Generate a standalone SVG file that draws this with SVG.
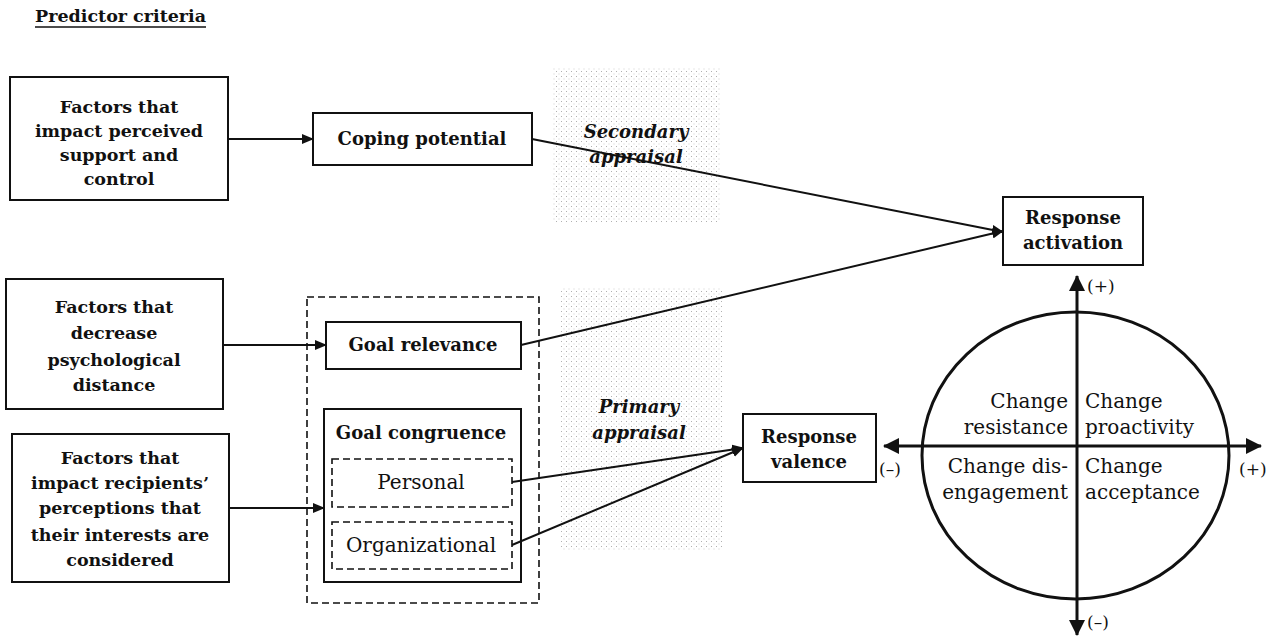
<svg xmlns="http://www.w3.org/2000/svg" width="1273" height="637" viewBox="0 0 1273 637">
<defs>
<style>
.box{fill:#fff;stroke:#111;stroke-width:2}
.dash{fill:none;stroke:#111;stroke-width:1.6;stroke-dasharray:7,4}
.b{font-family:"DejaVu Serif","Liberation Serif",serif;font-weight:bold;font-size:18px;fill:#111;text-anchor:middle}
.f{font-size:17.5px}
.r{font-family:"DejaVu Serif","Liberation Serif",serif;font-size:20px;fill:#111}
.bi{font-family:"DejaVu Serif","Liberation Serif",serif;font-weight:bold;font-style:italic;font-size:18px;fill:#111;text-anchor:middle}
.sm{font-family:"DejaVu Serif","Liberation Serif",serif;font-size:17px;fill:#111}
.ln{fill:none;stroke:#111;stroke-width:2}
.ax{fill:none;stroke:#111;stroke-width:3}
</style>
<pattern id="dots" width="5" height="5" patternUnits="userSpaceOnUse">
<rect x="1" y="1" width="1" height="1" fill="#b0b0b0"/>
<rect x="3.5" y="3.5" width="1" height="1" fill="#d0d0d0"/>
</pattern>
<marker id="ah" viewBox="0 0 12 10" refX="11" refY="5" markerWidth="12" markerHeight="10" markerUnits="userSpaceOnUse" orient="auto">
<path d="M0,0 L12,5 L0,10 z" fill="#111"/>
</marker>
<marker id="axh" viewBox="0 0 16 16" refX="15" refY="8" markerWidth="16" markerHeight="16" markerUnits="userSpaceOnUse" orient="auto">
<path d="M0,0 L16,8 L0,16 z" fill="#111"/>
</marker>
</defs>
<rect width="1273" height="637" fill="#fff"/>

<g id="title">
<text x="35" y="22" class="b" style="text-anchor:start;font-size:17.5px">Predictor criteria</text>
<line x1="35" y1="27" x2="206" y2="27" stroke="#111" stroke-width="1.5"/>
</g>

<g id="stipple">
<rect x="553" y="68" width="167" height="154" fill="url(#dots)"/>
<rect x="560" y="288" width="162" height="262" fill="url(#dots)"/>
</g>

<g id="factors1">
<rect class="box" x="10" y="77" width="218" height="123"/>
<text class="b f" x="119" y="113">Factors that</text>
<text class="b f" x="119" y="137">impact perceived</text>
<text class="b f" x="119" y="161">support and</text>
<text class="b f" x="119" y="185">control</text>
</g>

<g id="factors2">
<rect class="box" x="6" y="279" width="217" height="130"/>
<text class="b f" x="114" y="313">Factors that</text>
<text class="b f" x="114" y="339">decrease</text>
<text class="b f" x="114" y="366">psychological</text>
<text class="b f" x="114" y="391">distance</text>
</g>

<g id="factors3">
<rect class="box" x="12" y="434" width="217" height="148"/>
<text class="b f" x="120" y="464">Factors that</text>
<text class="b f" x="120" y="489">impact recipients’</text>
<text class="b f" x="120" y="514">perceptions that</text>
<text class="b f" x="120" y="541">their interests are</text>
<text class="b f" x="120" y="566">considered</text>
</g>

<g id="coping">
<rect class="box" x="313" y="113" width="219" height="52"/>
<text class="b" x="422" y="145">Coping potential</text>
</g>

<g id="primary-group">
<rect class="dash" x="307" y="297" width="232" height="306"/>
</g>

<g id="goal-relevance">
<rect class="box" x="326" y="322" width="195" height="47"/>
<text class="b" x="423" y="351">Goal relevance</text>
</g>

<g id="goal-congruence">
<rect class="box" x="324" y="409" width="197" height="173"/>
<text class="b" x="421" y="439">Goal congruence</text>
</g>

<g id="personal">
<rect class="dash" x="332" y="459" width="180" height="48"/>
<text class="r" x="421" y="489" text-anchor="middle">Personal</text>
</g>

<g id="organizational">
<rect class="dash" x="332" y="522" width="180" height="47"/>
<text class="r" x="421" y="552" text-anchor="middle">Organizational</text>
</g>

<g id="labels">
<text class="bi" x="636" y="138">Secondary</text>
<text class="bi" x="636" y="163">appraisal</text>
<text class="bi" x="639" y="413">Primary</text>
<text class="bi" x="639" y="439">appraisal</text>
</g>

<g id="response-activation">
<rect class="box" x="1003" y="197" width="140" height="68"/>
<text class="b" x="1073" y="224">Response</text>
<text class="b" x="1073" y="249">activation</text>
</g>

<g id="response-valence">
<rect class="box" x="743" y="414" width="133" height="68"/>
<text class="b" x="809" y="443">Response</text>
<text class="b" x="809" y="468">valence</text>
</g>

<g id="connectors">
<line class="ln" x1="228" y1="139" x2="313" y2="139" marker-end="url(#ah)"/>
<line class="ln" x1="223" y1="345" x2="326" y2="345" marker-end="url(#ah)"/>
<line class="ln" x1="229" y1="508" x2="324" y2="508" marker-end="url(#ah)"/>
<line class="ln" x1="532" y1="139" x2="1003" y2="232" marker-end="url(#ah)"/>
<line class="ln" x1="521" y1="345" x2="1003" y2="231" marker-end="url(#ah)"/>
<line class="ln" x1="512" y1="482" x2="743" y2="448" marker-end="url(#ah)"/>
<line class="ln" x1="512" y1="545" x2="743" y2="448" marker-end="url(#ah)"/>
</g>

<g id="quadrant">
<ellipse cx="1075.5" cy="455.5" rx="153.5" ry="143.5" fill="none" stroke="#111" stroke-width="3"/>
<line class="ax" x1="1077" y1="446" x2="1077" y2="276" marker-end="url(#axh)"/>
<line class="ax" x1="1077" y1="446" x2="1077" y2="635" marker-end="url(#axh)"/>
<line class="ax" x1="1077" y1="446" x2="884" y2="446" marker-end="url(#axh)"/>
<line class="ax" x1="1077" y1="446" x2="1261" y2="446" marker-end="url(#axh)"/>
<text class="sm" x="1087" y="292">(+)</text>
<text class="sm" x="1087" y="628">(–)</text>
<text class="sm" x="879" y="475">(–)</text>
<text class="sm" x="1239" y="475">(+)</text>
<text class="r" x="1068" y="408" text-anchor="end">Change</text>
<text class="r" x="1068" y="434" text-anchor="end">resistance</text>
<text class="r" x="1085" y="408">Change</text>
<text class="r" x="1085" y="434">proactivity</text>
<text class="r" x="1068" y="473" text-anchor="end">Change dis-</text>
<text class="r" x="1068" y="499" text-anchor="end">engagement</text>
<text class="r" x="1085" y="473">Change</text>
<text class="r" x="1085" y="499">acceptance</text>
</g>
</svg>
